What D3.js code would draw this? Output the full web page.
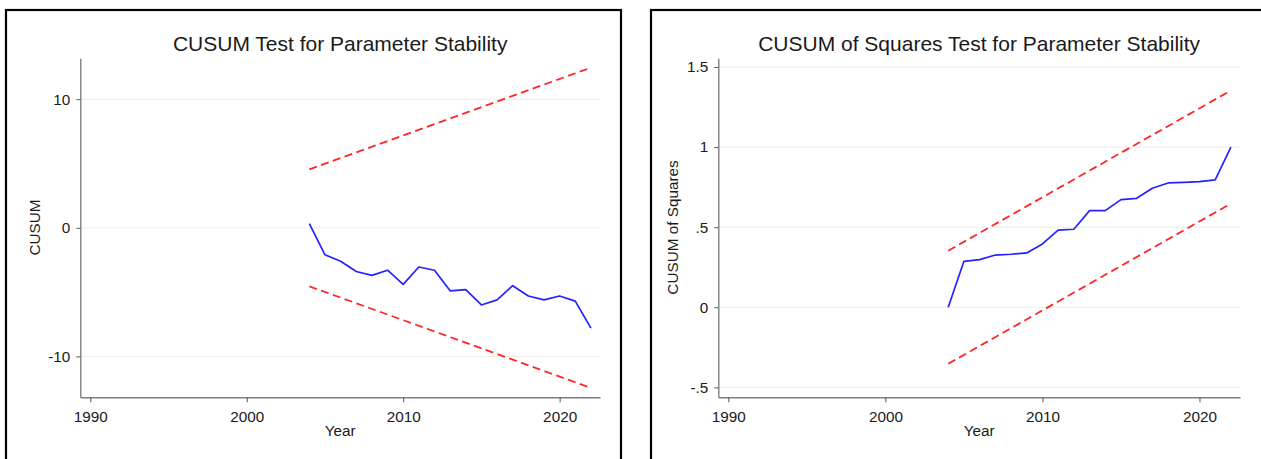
<!DOCTYPE html>
<html>
<head>
<meta charset="utf-8">
<script src="https://cdn.jsdelivr.net/npm/d3@7"></script>
<style>
  body { margin: 0; background: #fff; }
  text { font-family: "Liberation Sans", Arial, sans-serif; fill: #1a1a1a; }
</style>
</head>
<body>
<div id="chart"></div>
<script>
const width = 1261, height = 459;

// data
const years = [2004, 2005, 2006, 2007, 2008, 2009, 2010, 2011, 2012, 2013,
               2014, 2015, 2016, 2017, 2018, 2019, 2020, 2021, 2022];
const cusum = [0.33, -2.1, -2.6, -3.4, -3.7, -3.3, -4.4, -3.05, -3.3, -4.9,
               -4.8, -6.0, -5.6, -4.5, -5.3, -5.6, -5.3, -5.7, -7.8];
const cusumSq = [0.0, 0.287, 0.297, 0.326, 0.331, 0.339, 0.395, 0.482, 0.487, 0.603,
                 0.603, 0.672, 0.680, 0.743, 0.776, 0.780, 0.784, 0.795, 1.0];
const boundYears = [2004, 2022];
const cusumUpper = [4.55, 12.45];
const cusumLower = [-4.55, -12.45];
const sqUpper = [0.353, 1.353];
const sqLower = [-0.353, 0.647];

const xTicks = [1990, 2000, 2010, 2020];
const cusumTicks = [-10, 0, 10];
const sqTicks = [-0.5, 0, 0.5, 1, 1.5];
const sqTickLabels = ["-.5", "0", ".5", "1", "1.5"];

const svg = d3.select("#chart")
    .append("svg")
    .attr("width", width)
    .attr("height", height);

function drawPanel(opt) {
    const g = svg.append("g");

    // outer frame
    g.append("rect")
        .attr("x", opt.frame[0])
        .attr("y", 10)
        .attr("width", opt.frame[1] - opt.frame[0])
        .attr("height", height + 20)
        .attr("fill", "none")
        .attr("stroke", "#000")
        .attr("stroke-width", 2.2);

    const x = d3.scaleLinear().domain([1989.36, 2022.58]).range([opt.left, opt.right]);
    const y = d3.scaleLinear().domain(opt.yDomain).range([397.3, 58.3]);

    // gridlines
    g.selectAll(".grid")
        .data(opt.yTicks)
        .enter()
        .append("line")
        .attr("x1", opt.left)
        .attr("x2", opt.right)
        .attr("y1", d => y(d))
        .attr("y2", d => y(d))
        .attr("stroke", "#ebebeb")
        .attr("stroke-width", 1);

    // axes
    const xAxis = d3.axisBottom(x).tickValues(xTicks).tickFormat(d3.format("d"))
        .tickSizeOuter(0).tickSizeInner(5).tickPadding(6);
    const yAxis = d3.axisLeft(y).tickValues(opt.yTicks)
        .tickFormat((d, i) => opt.yLabels[i])
        .tickSizeOuter(0).tickSizeInner(4).tickPadding(6);

    const gx = g.append("g").attr("transform", `translate(0,397.3)`).call(xAxis);
    const gy = g.append("g").attr("transform", `translate(${opt.left},0)`).call(yAxis);
    [gx, gy].forEach(a => {
        a.attr("font-size", 15.3)
         .attr("font-family", "'Liberation Sans', Arial, sans-serif");
        a.select(".domain").attr("stroke", "#808080").attr("stroke-width", 1.4);
        a.selectAll(".tick line").attr("stroke", "#555");
        a.selectAll(".tick text")
            .attr("fill", "#1a1a1a")
            .attr("font-size", 15.3);
    });
    gx.selectAll(".tick text").attr("dy", "0.9em");

    // bounds
    const line = d3.line().x((d, i) => x(boundYears[i])).y(d => y(d));
    [opt.upper, opt.lower].forEach(b => {
        g.append("path")
            .attr("d", line(b))
            .attr("fill", "none")
            .attr("stroke", "#ff2626")
            .attr("stroke-width", 1.8)
            .attr("stroke-dasharray", "8,4.5");
    });

    // series
    const sLine = d3.line().x((d, i) => x(years[i])).y(d => y(d));
    g.append("path")
        .attr("d", sLine(opt.values))
        .attr("fill", "none")
        .attr("stroke", "#2323ff")
        .attr("stroke-width", 1.7)
        .attr("stroke-linejoin", "round");

    // title and labels
    const cx = (opt.left + opt.right) / 2;
    g.append("text")
        .attr("x", cx)
        .attr("y", 50.5)
        .attr("text-anchor", "middle")
        .attr("font-size", 21)
        .text(opt.title);

    g.append("text")
        .attr("x", cx)
        .attr("y", 436)
        .attr("text-anchor", "middle")
        .attr("font-size", 15.3)
        .text("Year");

    g.append("text")
        .attr("transform", `translate(${opt.left - 40.5},227.5) rotate(-90)`)
        .attr("text-anchor", "middle")
        .attr("font-size", 15.3)
        .text(opt.yTitle);
}

drawPanel({
    frame: [6, 621],
    left: 80.3, right: 600,
    yDomain: [-13.18, 13.18],
    yTicks: cusumTicks,
    yLabels: cusumTicks.map(String),
    values: cusum,
    upper: cusumUpper, lower: cusumLower,
    title: "CUSUM Test for Parameter Stability",
    yTitle: "CUSUM"
});

drawPanel({
    frame: [651, 1300],
    left: 718.3, right: 1240,
    yDomain: [-0.562, 1.554],
    yTicks: sqTicks,
    yLabels: sqTickLabels,
    values: cusumSq,
    upper: sqUpper, lower: sqLower,
    title: "CUSUM of Squares Test for Parameter Stability",
    yTitle: "CUSUM of Squares"
});
</script>
</body>
</html>
